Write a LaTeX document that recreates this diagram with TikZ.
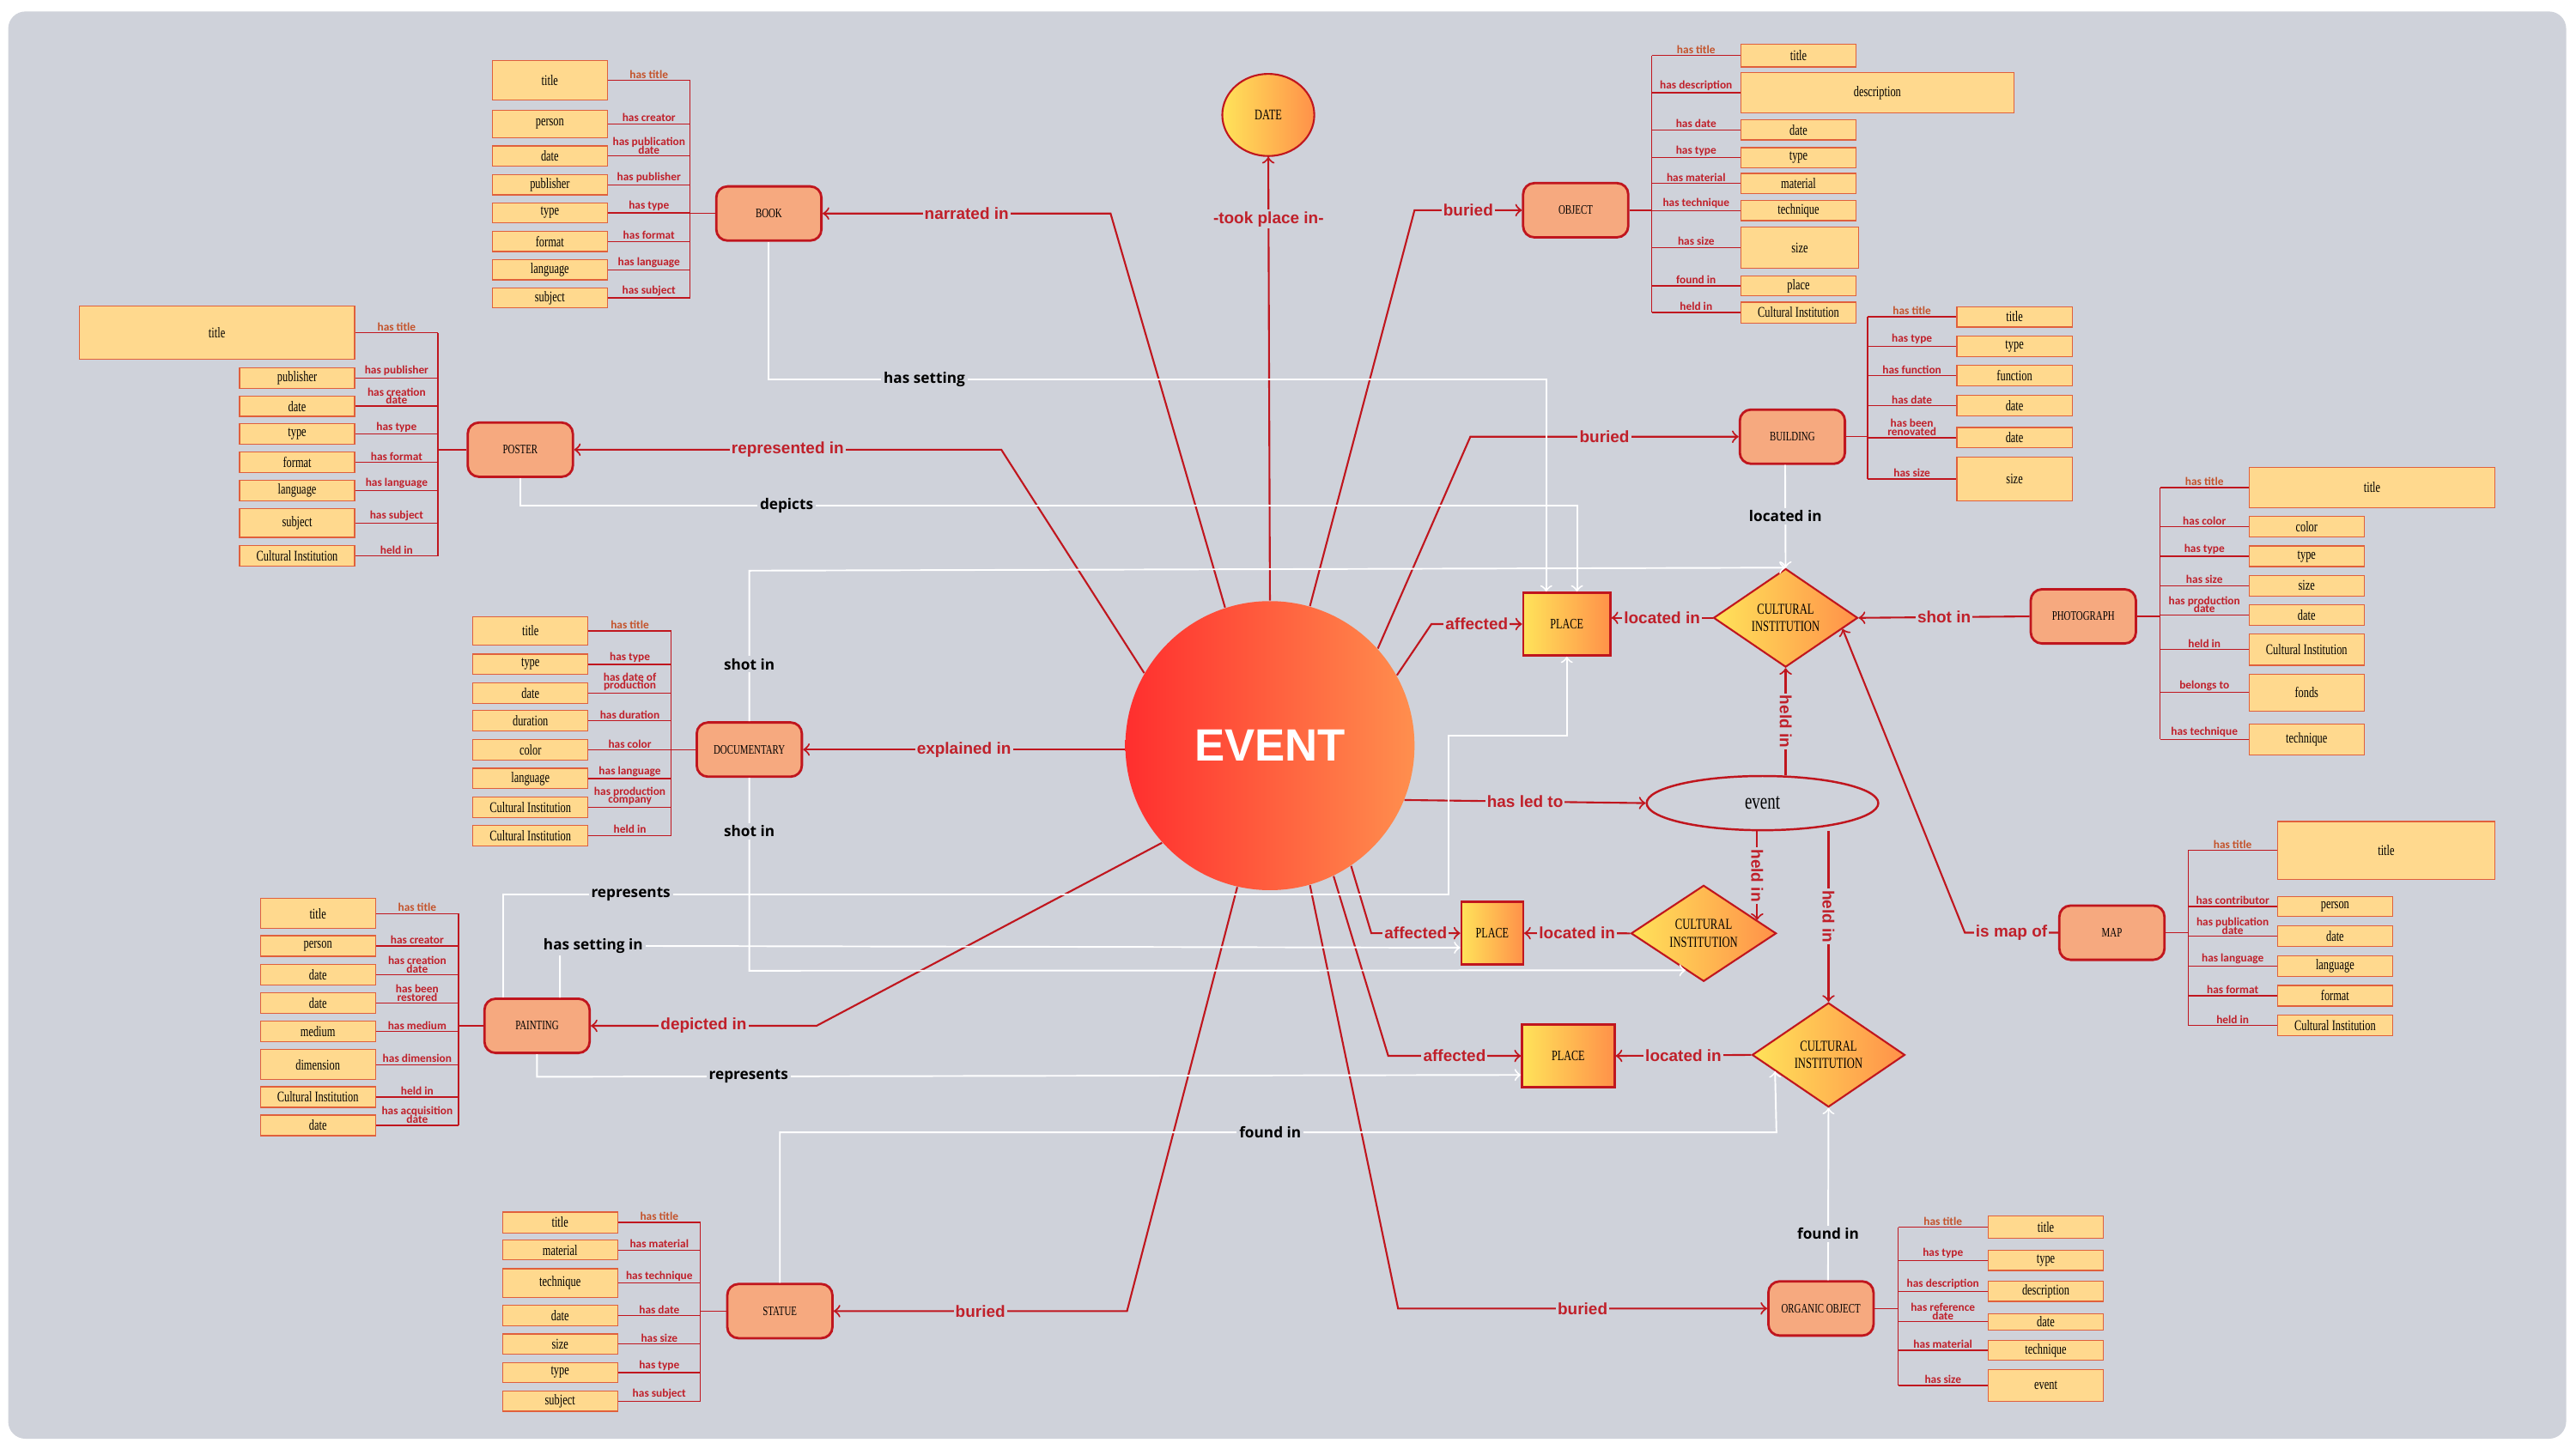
\documentclass[tikz,border=0pt]{standalone}
\usepackage{fontspec}
\usepackage{tikz}
\usepackage{xcolor}
\usetikzlibrary{shapes.geometric}

\setmainfont{Liberation Serif}
\newfontfamily\narrowserif[FakeStretch=0.72]{Liberation Serif}
\newfontfamily\carlito{Carlito}
\newfontfamily\linkfont{Liberation Sans}
\newfontfamily\opensans{Open Sans}

\definecolor{bg}{HTML}{CFD2DA}
\definecolor{attrfill}{HTML}{FFD98E}
\definecolor{attrline}{HTML}{E0603C}
\definecolor{clsfill}{HTML}{F6A97F}
\definecolor{darkred}{HTML}{C0161E}
\definecolor{labr}{HTML}{C0202A}
\definecolor{labt}{HTML}{C4532B}
\definecolor{gyellow}{HTML}{FFE35A}
\definecolor{gorange}{HTML}{FF9149}
\definecolor{ered}{HTML}{FF2E2E}
\definecolor{eorange}{HTML}{FF8F4E}

\newcommand{\vu}{0.019133cm}

\tikzset{
	attr/.style={draw=attrline, line width=0.35pt, fill=attrfill, inner sep=0pt, font=\narrowserif\fontsize{4.9}{5}\selectfont},
	cls/.style={draw=darkred, line width=0.8pt, fill=clsfill, rounded corners=0.13cm, minimum width=64*\vu, minimum height=33*\vu, inner sep=0pt, font=\narrowserif\fontsize{4.3}{4.5}\selectfont},
	placebox/.style={draw=darkred, line width=0.7pt, left color=gyellow, right color=gorange, inner sep=0pt, font=\narrowserif\fontsize{4.8}{5}\selectfont},
	instbox/.style={diamond, draw=darkred, line width=0.6pt, left color=gyellow, right color=gorange, inner sep=0pt, align=center, font=\narrowserif\fontsize{5}{5.9}\selectfont},
	arel/.style={darkred, line width=0.38pt},
	alab/.style={text=labr, inner sep=0.5pt, align=center, font={\carlito\bfseries\fontsize{3.8}{2.7}\selectfont\lineskiplimit -10pt}},
	redlink/.style={darkred, line width=0.6pt},
	rlab/.style={text=labr, fill=bg, inner sep=0.6pt, font=\linkfont\bfseries\fontsize{5.4}{6}\selectfont},
	whitelink/.style={white, line width=0.55pt},
	wlab/.style={text=black, fill=bg, inner sep=0.8pt, font=\opensans\bfseries\fontsize{4.9}{6}\selectfont}
}

\begin{document}
\begin{tikzpicture}[x=0.019133cm, y=-0.019133cm]
	\fill[white] (0,0) rectangle (1568,882);
	\fill[bg, rounded corners=0.2cm] (5,7) rectangle (1562,876);
	\useasboundingbox (0,0) rectangle (1568,882);

	% centre
	\node[circle, left color=ered, right color=eorange, minimum size=176*\vu, inner sep=0pt, text=white, font=\linkfont\bfseries\fontsize{15}{18}\selectfont] (event) at (773,454) {EVENT};
	\node[ellipse, draw=darkred, line width=0.6pt, left color=gyellow, right color=gorange, minimum width=56*\vu, minimum height=50*\vu, inner sep=0pt, font=\narrowserif\fontsize{4.9}{5}\selectfont] (date) at (772,70) {DATE};
	\node[ellipse, draw=darkred, line width=0.7pt, minimum width=141*\vu, minimum height=33*\vu, inner sep=0pt, font=\narrowserif\fontsize{7.5}{8}\selectfont] (evt) at (1072.8,489) {event};
	\node[placebox, minimum width=53.2*\vu, minimum height=38.3*\vu] (place1) at (953.7,380) {PLACE};
	\node[placebox, minimum width=37.6*\vu, minimum height=38.1*\vu] (place2) at (908.3,568.2) {PLACE};
	\node[placebox, minimum width=56.4*\vu, minimum height=38*\vu] (place3) at (954.6,642.9) {PLACE};
	\node[instbox, minimum width=87.8*\vu, minimum height=60*\vu] (ci1) at (1086.9,376.2) {CULTURAL\\INSTITUTION};
	\node[instbox, minimum width=88.4*\vu, minimum height=56*\vu] (ci2) at (1037,568.3) {CULTURAL\\INSTITUTION};
	\node[instbox, minimum width=93*\vu, minimum height=63.5*\vu] (ci3) at (1113,642.3) {CULTURAL\\INSTITUTION};

	% book
	\node[cls] (book) at (468,130) {BOOK};
	\coordinate (bookbus) at (420,130);
	\foreach \ry/\rh/\rw/\rt/\rl [count=\k] in {49/24/70/title/has title, 75.5/17/70/person/has creator, 95/12.2/70/date/has publication\\date, 112.5/12.2/70/publisher/has publisher, 129.6/12.2/70/type/has type, 147/12.2/70/format/has format, 164.3/12.2/70/language/has language, 181.4/12.2/70/subject/has subject}
	{
		\ifnum\k=1 \def\lc{labt}\else\def\lc{labr}\fi
		\node[attr, anchor=east, minimum width=\rw*\vu, minimum height=\rh*\vu] (book\k) at (370,\ry) {\rt};
		\draw[arel] (book\k.east) -- node[alab, above, text=\lc] {\rl} (book\k.east -| bookbus);
	}
	\draw[arel] (book1.east -| bookbus) -- (book8.east -| bookbus);
	\draw[arel] (book.west) -- (bookbus);

	% poster
	\node[cls] (poster) at (316.7,273.8) {POSTER};
	\coordinate (posterbus) at (266.6,273.8);
	\foreach \ry/\rh/\rw/\rt/\rl [count=\k] in {202.6/32.3/167.7/title/has title, 230.2/12.5/70/publisher/has publisher, 247.3/12.5/70/date/has creation\\date, 264.3/12.6/70/type/has type, 281.5/12.4/70/format/has format, 298.7/12.3/70/language/has language, 318.5/17.4/70/subject/has subject, 338.5/12.3/70/Cultural Institution/held in}
	{
		\ifnum\k=1 \def\lc{labt}\else\def\lc{labr}\fi
		\node[attr, anchor=east, minimum width=\rw*\vu, minimum height=\rh*\vu] (poster\k) at (216.2,\ry) {\rt};
		\draw[arel] (poster\k.east) -- node[alab, above, text=\lc] {\rl} (poster\k.east -| posterbus);
	}
	\draw[arel] (poster1.east -| posterbus) -- (poster8.east -| posterbus);
	\draw[arel] (poster.west) -- (posterbus);

	% documentary
	\node[cls] (documentary) at (456.1,456.4) {DOCUMENTARY};
	\coordinate (docbus) at (408.6,456.4);
	\foreach \ry/\rh/\rw/\rt/\rl [count=\k] in {384.2/17.4/70/title/has title, 404.5/12.5/70/type/has type, 421.9/12.5/70/date/has date of\\production, 438.9/12.7/70/duration/has duration, 456.7/12.6/70/color/has color, 474/12.5/70/language/has language, 491.4/12.5/70/Cultural Institution/has production\\company, 508.8/12.5/70/Cultural Institution/held in}
	{
		\ifnum\k=1 \def\lc{labt}\else\def\lc{labr}\fi
		\node[attr, anchor=east, minimum width=\rw*\vu, minimum height=\rh*\vu] (doc\k) at (358.2,\ry) {\rt};
		\draw[arel] (doc\k.east) -- node[alab, above, text=\lc] {\rl} (doc\k.east -| docbus);
	}
	\draw[arel] (doc1.east -| docbus) -- (doc8.east -| docbus);
	\draw[arel] (documentary.west) -- (docbus);

	% painting
	\node[cls] (painting) at (326.9,624.6) {PAINTING};
	\coordinate (paintbus) at (279.1,624.6);
	\foreach \ry/\rh/\rw/\rt/\rl [count=\k] in {556.3/18.3/70/title/has title, 576/12.5/70/person/has creator, 593.5/12.5/70/date/has creation\\date, 610.9/12.6/70/date/has been\\restored, 628/12.5/70/medium/has medium, 648.2/18.1/70/dimension/has dimension, 668/12.5/70/Cultural Institution/held in, 685.2/12.5/70/date/has acquisition\\date}
	{
		\ifnum\k=1 \def\lc{labt}\else\def\lc{labr}\fi
		\node[attr, anchor=east, minimum width=\rw*\vu, minimum height=\rh*\vu] (paint\k) at (228.8,\ry) {\rt};
		\draw[arel] (paint\k.east) -- node[alab, above, text=\lc] {\rl} (paint\k.east -| paintbus);
	}
	\draw[arel] (paint1.east -| paintbus) -- (paint8.east -| paintbus);
	\draw[arel] (painting.west) -- (paintbus);

	% statue
	\node[cls] (statue) at (474.7,798.3) {STATUE};
	\coordinate (statuebus) at (426.4,798.3);
	\foreach \ry/\rh/\rw/\rt/\rl [count=\k] in {744.3/12.7/70/title/has title, 761.1/12.2/70/material/has material, 781.2/17.5/70/technique/has technique, 801/12.2/70/date/has date, 818.4/12.3/70/size/has size, 835.7/12.2/70/type/has type, 853.1/12.2/70/subject/has subject}
	{
		\ifnum\k=1 \def\lc{labt}\else\def\lc{labr}\fi
		\node[attr, anchor=east, minimum width=\rw*\vu, minimum height=\rh*\vu] (statue\k) at (376.2,\ry) {\rt};
		\draw[arel] (statue\k.east) -- node[alab, above, text=\lc] {\rl} (statue\k.east -| statuebus);
	}
	\draw[arel] (statue1.east -| statuebus) -- (statue7.east -| statuebus);
	\draw[arel] (statue.west) -- (statuebus);

	% object
	\node[cls] (object) at (959.1,128) {OBJECT};
	\coordinate (objectbus) at (1005.4,128);
	\foreach \ry/\rh/\rw/\rt/\rl [count=\k] in {33.8/14/70/title/has title, 56.5/24.3/166/description/has description, 79.1/12.2/70/date/has date, 96/12.2/70/type/has type, 111.7/12.2/70/material/has material, 128.2/12.2/70/technique/has technique, 150.8/25/71.5/size/has size, 174.1/12.2/70/place/found in, 190.3/12.7/70/Cultural Institution/held in}
	{
		\ifnum\k=1 \def\lc{labt}\else\def\lc{labr}\fi
		\node[attr, anchor=west, minimum width=\rw*\vu, minimum height=\rh*\vu] (object\k) at (1059.4,\ry) {\rt};
		\draw[arel] (object\k.west -| objectbus) -- node[alab, above, text=\lc] {\rl} (object\k.west);
	}
	\draw[arel] (object1.west -| objectbus) -- (object9.west -| objectbus);
	\draw[arel] (object.east) -- (objectbus);

	% building
	\node[cls] (building) at (1091,265.9) {BUILDING};
	\coordinate (buildbus) at (1136.8,265.9);
	\foreach \ry/\rh/\rw/\rt/\rl [count=\k] in {192.9/12.4/70.2/title/has title, 210.8/12.5/70.2/type/has type, 228.8/12.6/70.2/function/has function, 247.1/12.6/70.2/date/has date, 266.5/12.4/70.2/date/has been\\renovated, 291.6/26.5/70.2/size/has size}
	{
		\ifnum\k=1 \def\lc{labt}\else\def\lc{labr}\fi
		\node[attr, anchor=west, minimum width=\rw*\vu, minimum height=\rh*\vu] (build\k) at (1190.8,\ry) {\rt};
		\draw[arel] (build\k.west -| buildbus) -- node[alab, above, text=\lc] {\rl} (build\k.west);
	}
	\draw[arel] (build1.west -| buildbus) -- (build6.west -| buildbus);
	\draw[arel] (building.east) -- (buildbus);

	% photograph
	\node[cls] (photograph) at (1268.1,375.3) {PHOTOGRAPH};
	\coordinate (photobus) at (1314.9,375.3);
	\foreach \ry/\rh/\rw/\rt/\rl [count=\k] in {296.9/24.8/149.7/title/has title, 320.7/12.4/70/color/has color, 338.7/12.5/70/type/has type, 356.6/12.5/70/size/has size, 374.4/12.5/70/date/has production\\date, 395.5/19.2/70/Cultural Institution/held in, 421.7/22.5/70/fonds/belongs to, 450.2/18.8/70/technique/has technique}
	{
		\ifnum\k=1 \def\lc{labt}\else\def\lc{labr}\fi
		\node[attr, anchor=west, minimum width=\rw*\vu, minimum height=\rh*\vu] (photo\k) at (1368.7,\ry) {\rt};
		\draw[arel] (photo\k.west -| photobus) -- node[alab, above, text=\lc] {\rl} (photo\k.west);
	}
	\draw[arel] (photo1.west -| photobus) -- (photo8.west -| photobus);
	\draw[arel] (photograph.east) -- (photobus);

	% map
	\node[cls] (map) at (1285.5,567.9) {MAP};
	\coordinate (mapbus) at (1332,567.9);
	\foreach \ry/\rh/\rw/\rt/\rl [count=\k] in {517.8/35.1/132.3/title/has title, 552/12.2/70/person/has contributor, 570/12.4/70/date/has publication\\date, 588.3/12.3/70/language/has language, 606.3/12.5/70/format/has format, 624.4/12.4/70/Cultural Institution/held in}
	{
		\ifnum\k=1 \def\lc{labt}\else\def\lc{labr}\fi
		\node[attr, anchor=west, minimum width=\rw*\vu, minimum height=\rh*\vu] (map\k) at (1386,\ry) {\rt};
		\draw[arel] (map\k.west -| mapbus) -- node[alab, above, text=\lc] {\rl} (map\k.west);
	}
	\draw[arel] (map1.west -| mapbus) -- (map6.west -| mapbus);
	\draw[arel] (map.east) -- (mapbus);

	% organic object
	\node[cls] (organic) at (1108.4,796.7) {ORGANIC OBJECT};
	\coordinate (orgbus) at (1155.4,796.7);
	\foreach \ry/\rh/\rw/\rt/\rl [count=\k] in {747.3/13.6/70.1/title/has title, 767.5/12.1/70.1/type/has type, 786.2/12.2/70.1/description/has description, 804.8/10.1/70.1/date/has reference\\date, 822.2/12.2/70.1/technique/has material, 843.5/19.2/70.1/event/has size}
	{
		\ifnum\k=1 \def\lc{labt}\else\def\lc{labr}\fi
		\node[attr, anchor=west, minimum width=\rw*\vu, minimum height=\rh*\vu] (org\k) at (1209.9,\ry) {\rt};
		\draw[arel] (org\k.west -| orgbus) -- node[alab, above, text=\lc] {\rl} (org\k.west);
	}
	\draw[arel] (org1.west -| orgbus) -- (org6.west -| orgbus);
	\draw[arel] (organic.east) -- (orgbus);

	% red relations
	\draw[redlink, ->] (event.north) -- node[rlab, pos=0.86] {-took place in-} (date.south);
	\draw[redlink, ->] (event.108.5) -- (676,130) -- node[rlab] {narrated in} (book.east);
	\draw[redlink, ->] (event.74.4) -- (861,128) -- node[rlab] {buried} (object.west);
	\draw[redlink, ->] (event.150.5) -- (609.5,273.8) -- node[rlab] {represented in} (poster.east);
	\draw[redlink, ->] (event.42.7) -- (895,265.9) -- node[rlab] {buried} (building.west);
	\draw[redlink, ->] (event.west |- documentary.east) -- node[rlab] {explained in} (documentary.east);
	\draw[redlink, ->] (event.-138.4) -- (497,624.6) -- node[rlab] {depicted in} (painting.east);
	\draw[redlink, ->] (event.-103.4) -- (686,798.3) -- node[rlab] {buried} (statue.east);
	\draw[redlink, ->] (event.-74.4) -- (851,796.7) -- node[rlab] {buried} (organic.west);
	\draw[redlink, ->] (event.29.4) -- (871.3,380) -- node[rlab] {affected} (place1.west);
	\draw[redlink, ->] (event.-56.1) -- (834.7,568.2) -- node[rlab] {affected} (place2.west);
	\draw[redlink, ->] (event.-64.1) -- (845,642.9) -- node[rlab] {affected} (place3.west);
	\draw[redlink, ->] (event.-22.7) -- node[rlab] {has led to} (evt.west);
	\draw[redlink, ->] (ci1.west) -- node[rlab] {located in} (ci1.west -| place1.east);
	\draw[redlink, ->] (ci2.west) -- node[rlab] {located in} (place2.east);
	\draw[redlink, ->] (ci3.west) -- node[rlab] {located in} (place3.east);
	\draw[redlink, ->] (ci1.south |- evt.north) -- node[rlab, rotate=-90] {held in} (ci1.south);
	\draw[redlink, ->] (ci2.14.7 |- evt.south) -- node[rlab, rotate=-90] {held in} (ci2.14.7);
	\draw[redlink, ->] (ci3.north |- evt.south) -- node[rlab, rotate=-90] {held in} (ci3.north);
	\draw[redlink, ->] (photograph.west) -- node[rlab] {shot in} (ci1.east);
	\draw[redlink, ->] (map.west) -- node[rlab] {is map of} (1196,567.9) -- (ci1.-11.2);

	% white relations
	\draw[whitelink, ->] (book.south) -- ++(0,83.8) -| node[wlab, pos=0.1] {has setting} ([xshift=-12.5*\vu]place1.north);
	\draw[whitelink, ->] (poster.south) -- ++(0,16.8) -| node[wlab, pos=0.126] {depicts} ([xshift=6.2*\vu]place1.north);
	\draw[whitelink, ->] (documentary.north) -- node[wlab, pos=0.38] {shot in} ++(0,-91.7) -- (ci1.north);
	\draw[whitelink, ->] (documentary.south) -- node[wlab, pos=0.276] {shot in} ++(0,117.4) -- (ci2.-116.6);
	\draw[whitelink, ->] ([xshift=-20.6*\vu]painting.north) -- ++(0,-62.8) -- node[wlab, pos=0.135] {represents} ++(575.4,0) -- ++(0,-96.8) -| (place1.south);
	\draw[whitelink, ->] ([xshift=13.9*\vu]painting.north) -- ++(0,-31.5) -- node[wlab, pos=0.037] {has setting in} ([yshift=-8.8*\vu]place2.west);
	\draw[whitelink, ->] (painting.south) -- ++(0,13.8) -- node[wlab, pos=0.215] {represents} ([yshift=-11.6*\vu]place3.west);
	\draw[whitelink, ->] (statue.north) -- ++(0,-91.6) -- node[wlab, pos=0.492] {found in} ++(606.6,0) -- (ci3.197.7);
	\draw[whitelink, ->] ([xshift=4.3*\vu]organic.north) -- node[wlab, pos=0.27] {found in} (ci3.south);
	\draw[whitelink, ->] ([xshift=-4.4*\vu]building.south) -- node[wlab] {located in} (ci1.north);
\end{tikzpicture}
\end{document}
